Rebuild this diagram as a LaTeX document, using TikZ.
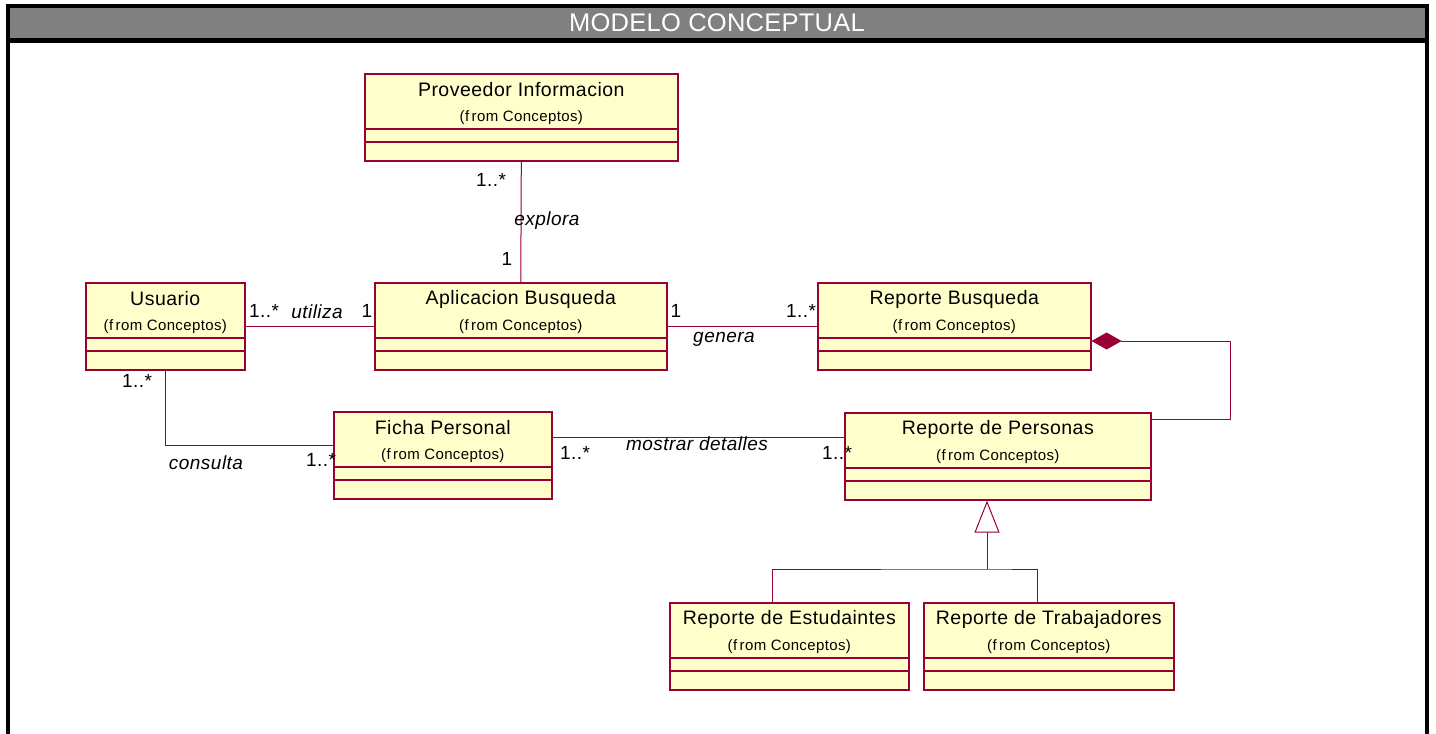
\documentclass[tikz,border=0pt]{standalone}
\usepackage{fontspec}
\newfontfamily\umlfont{Liberation Sans}[LetterSpace=2.5]
\newfontfamily\titlefont{Liberation Sans}[LetterSpace=1]
\usetikzlibrary{calc,arrows.meta}
\definecolor{umlred}{HTML}{990033}
\definecolor{umlfill}{HTML}{FFFFCC}
\definecolor{bargray}{HTML}{808080}
\tikzset{
  classbox/.style={draw=umlred, fill=umlfill, line width=1.6pt, rectangle,
    inner sep=0pt, minimum height=87pt, anchor=north west},
  compline/.style={draw=umlred, line width=1.2pt},
  clsname/.style={font=\umlfont\fontsize{19.5}{21}\selectfont, inner sep=0pt},
  clsfrom/.style={font=\umlfont\fontsize{15}{17}\selectfont, inner sep=0pt},
  assoc/.style={draw=umlred, line width=1pt},
  mult/.style={font=\umlfont\fontsize{19}{21}\selectfont, inner sep=0pt},
  role/.style={font=\umlfont\itshape\fontsize{19}{21}\selectfont, inner sep=0pt},
}
% one UML class: name, x, y (top-left), width, title
\newcommand{\umlclass}[5]{%
  \node[classbox, minimum width=#4pt] (#1) at (#2,#3) {};
  \node[clsname] (#1-t) at ($(#1.north)+(0,17)$) {#5};
  \node[clsfrom] (#1-f) at ($(#1.north)+(0,45)$) {(f\kern2.5pt rom Conceptos)};
  \draw[compline] ($(#1.north west)+(0,56)$) -- ($(#1.north east)+(0,56)$);
  \draw[compline] ($(#1.north west)+(0,69)$) -- ($(#1.north east)+(0,69)$);
}
\begin{document}
\begin{tikzpicture}[x=1pt, y=-1pt]
\useasboundingbox (0,0) rectangle (1436,734);
\fill[white] (0,0) rectangle (1436,734);
% frame and title bar
\fill[bargray] (10,8) rectangle (1425,38);
\node[font=\titlefont\fontsize{25.5}{28}\selectfont, text=white, inner sep=0pt] (title) at (717,23) {MODELO CONCEPTUAL};
\draw[black, line width=5pt] (8,40.5) -- (1427,40.5);
\draw[black, line width=4pt] (8,760) -- (8,6) -- (1427,6) -- (1427,760);

% classes
\umlclass{prov}{364}{73}{313}{Proveedor Informacion}
\umlclass{usu}{85}{282}{159}{Usuario}
\umlclass{app}{374}{282}{292}{Aplicacion Busqueda}
\umlclass{rb}{817}{282}{273}{Reporte Busqueda}
\umlclass{fic}{333}{411}{218}{Ficha Personal}
\umlclass{rp}{844}{412}{306}{Reporte de Personas}
\umlclass{est}{669}{602}{239}{Reporte de Estudaintes}
\umlclass{tra}{923}{602}{250}{Reporte de Trabajadores}

% explora
\draw[assoc] (prov.south) -- (app.north);
\node[mult] (m1) at (491,180) {1..*};
\node[role] (r1) at (547,221) {explora};
\node[mult] (m2) at (507,259) {1};

% utiliza
\draw[assoc] (usu.east) -- (app.west);
\node[mult] (m3) at (264,311) {1..*};
\node[role] (r2) at (317,312) {utiliza};
\node[mult] (m4) at (367,311) {1};

% genera
\draw[assoc] (app.east) -- (rb.west);
\node[mult] (m5) at (676,311) {1};
\node[mult] (m6) at (801,311) {1..*};
\node[role] (r3) at (724,339) {genera};

% consulta
\coordinate (ficIn) at ($(fic.north west)+(0,34)$);
\draw[assoc] (usu.south) |- (ficIn);
\node[mult] (m7) at (137,381) {1..*};
\node[role] (r4) at (206,463) {consulta};
\node[mult] (m8) at (321,460) {1..*};

% mostrar detalles
\coordinate (ficOut) at ($(fic.north east)+(0,26)$);
\draw[assoc] (ficOut) -- (ficOut -| rp.west);
\node[mult] (m9) at (575,453) {1..*};
\node[role] (r5) at (697,444) {mostrar detalles};
\node[mult] (m10) at (837,453) {1..*};

% composition
\coordinate (compA) at ($(rb.north east)+(0,59)$);
\coordinate (compB) at ($(rp.north east)+(0,7)$);
\draw[assoc, {Diamond[length=30pt, width=17pt, fill=umlred]}-] (compA) -- ++(139,0) |- (compB);

% generalization
\coordinate (gjoin) at (987,569);
\draw[assoc, {Triangle[open, length=32pt, width=25pt, fill=white]}-] ($(rp.south west)+(143,0)$) -- (gjoin);
\draw[assoc] ($(est.north west)+(103,0)$) |- (gjoin) -| ($(tra.north west)+(114,0)$);
\end{tikzpicture}
\end{document}
